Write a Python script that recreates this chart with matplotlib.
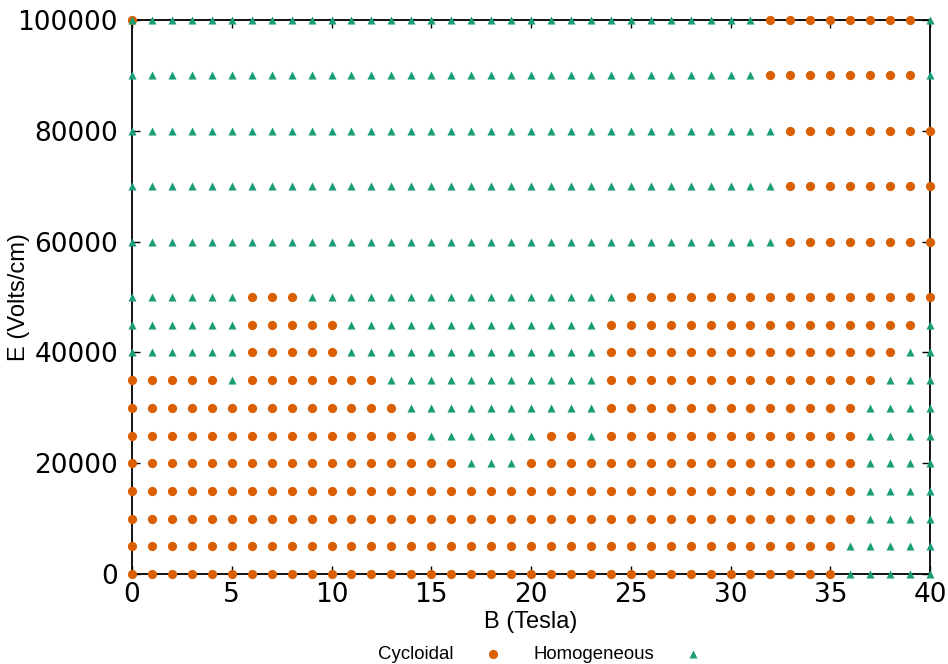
import matplotlib
matplotlib.use("Agg")
import matplotlib.pyplot as plt
import numpy as np

plt.rcParams['font.family'] = ['Liberation Sans', 'DejaVu Sans']

# magnetic field grid (Tesla) and electric field rows (V/cm)
b_values = np.arange(0, 41)
e_values = [0, 5000, 10000, 15000, 20000, 25000, 30000, 35000, 40000,
            45000, 50000, 60000, 70000, 80000, 90000, 100000]

# B ranges (inclusive) where the electron motion is cycloidal, one entry per E row
cycloidal_runs = [
    [(0, 35)],
    [(0, 35)],
    [(0, 36)],
    [(0, 36)],
    [(0, 16), (20, 36)],
    [(0, 14), (21, 22), (24, 36)],
    [(0, 13), (24, 36)],
    [(0, 4), (6, 12), (24, 37)],
    [(6, 10), (24, 38)],
    [(6, 10), (24, 39)],
    [(6, 8), (25, 40)],
    [(33, 40)],
    [(33, 40)],
    [(33, 40)],
    [(32, 39)],
    [(0, 0), (32, 39)],
]
# points reported as both
both = [(0, 100000)]

cyc_b, cyc_e, hom_b, hom_e = [], [], [], []
for e, runs in zip(e_values, cycloidal_runs):
    for b in b_values:
        is_cyc = any(lo <= b <= hi for lo, hi in runs)
        if is_cyc:
            cyc_b.append(b)
            cyc_e.append(e)
        if not is_cyc or (b, e) in both:
            hom_b.append(b)
            hom_e.append(e)

fig = plt.figure(figsize=(9.48, 6.64), dpi=100)
ax = fig.add_axes([132 / 948, 1 - 574 / 664, 798 / 948, 554 / 664])

ax.scatter(cyc_b, cyc_e, s=44, marker='o', color='#d95f02', linewidths=0,
           label='Cycloidal', clip_on=False, zorder=3)
ax.scatter(hom_b, hom_e, s=34, marker='^', color='#1b9e77', linewidths=0,
           label='Homogeneous', clip_on=False, zorder=4)

ax.set_xlim(0, 40)
ax.set_ylim(0, 100000)
ax.set_xticks(np.arange(0, 41, 5))
ax.set_yticks(np.arange(0, 100001, 20000))
ax.tick_params(direction='in', length=6, width=1, top=True, right=True,
               labelsize=19, colors='black')
ax.tick_params(axis='y', pad=10)
ax.tick_params(axis='x', pad=6)
for lbl in ax.get_xticklabels() + ax.get_yticklabels():
    lbl.set_family('DejaVu Sans')
for sp in ax.spines.values():
    sp.set_linewidth(1.3)

ax.set_xlabel('B (Tesla)', fontsize=17, va='center')
ax.set_ylabel('E (Volts/cm)', fontsize=17, va='center')
ax.xaxis.set_label_coords(0.5, (574 - 622) / 554)
ax.yaxis.set_label_coords((19 - 132) / 798, 0.5)

fig.legend(loc='lower center', bbox_to_anchor=(0.575, -0.024), ncol=2,
           frameon=False, markerfirst=False, fontsize=13.4, handletextpad=1.1,
           columnspacing=1.2, handlelength=2.0, scatterpoints=1)

fig.savefig('out.png', dpi=100)
